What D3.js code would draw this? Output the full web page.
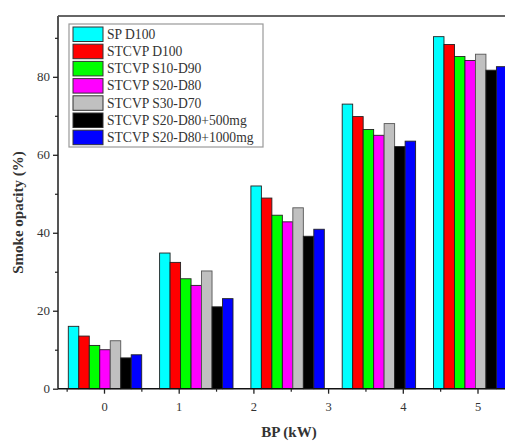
<!DOCTYPE html>
<html>
<head>
<meta charset="utf-8">
<script src="https://cdn.jsdelivr.net/npm/d3@7"></script>
<style>
html,body{margin:0;padding:0;background:#fff;overflow:hidden;}
svg{display:block;}
</style>
</head>
<body>
<svg id="chart" width="505" height="441"></svg>
<script>
const groups = ["G1", "G2", "G3", "G4", "G5"];
const seriesNames = ["SP D100", "STCVP D100", "STCVP S10-D90", "STCVP S20-D80", "STCVP S30-D70", "STCVP S20-D80+500mg", "STCVP S20-D80+1000mg"];
const seriesColors = ["#00ffff", "#ff0000", "#00ff00", "#ff00ff", "#c0c0c0", "#000000", "#0000ff"];
const spD100      = [16.0, 34.8, 52.0, 73.0, 90.3];
const stcvpD100   = [13.5, 32.4, 48.9, 69.8, 88.3];
const s10d90      = [11.1, 28.2, 44.5, 66.5, 85.2];
const s20d80      = [10.0, 26.5, 42.8, 65.0, 84.2];
const s30d70      = [12.3, 30.2, 46.4, 68.0, 85.8];
const s20d80_500  = [7.9, 21.0, 39.1, 62.1, 81.7];
const s20d80_1000 = [8.7, 23.1, 40.9, 63.5, 82.6];
const seriesValues = [spD100, stcvpD100, s10d90, s20d80, s30d70, s20d80_500, s20d80_1000];
const xTickLabels = [0, 1, 2, 3, 4, 5];
const yTicks = [0, 20, 40, 60, 80];

(function () {
const svg = d3.select("#chart");
const mLeft = 58, mRight = 520, mTop = 16, mBottom = 388.7;
const serif = "'Liberation Serif','Times New Roman',serif";

const y = d3.scaleLinear().domain([0, 95.6]).range([mBottom, mTop]);
const xAxisScale = d3.scaleLinear().domain([0, 5]).range([104, 477.5]);
const xGroup = d3.scaleBand().domain(groups).range([68.3, 506.9]).paddingInner(0.196).paddingOuter(0);
const xSeries = d3.scaleBand().domain(seriesNames).range([0, xGroup.bandwidth()]);

// bars
const gBars = svg.append("g");
groups.forEach((g, gi) => {
  gBars.selectAll(null).data(seriesNames).enter().append("rect")
    .attr("x", s => xGroup(g) + xSeries(s))
    .attr("width", xSeries.bandwidth())
    .attr("y", (s, si) => y(seriesValues[si][gi]))
    .attr("height", (s, si) => mBottom - y(seriesValues[si][gi]))
    .attr("fill", (s, si) => seriesColors[si])
    .attr("stroke", (s, si) => si === 4 ? "#555" : "#222")
    .attr("stroke-width", 0.9);
});

// frame
svg.append("line").attr("x1", mLeft).attr("x2", mRight).attr("y1", mTop).attr("y2", mTop)
  .attr("stroke", "#666").attr("stroke-width", 2);
svg.append("line").attr("x1", mLeft).attr("x2", mLeft).attr("y1", mTop).attr("y2", mBottom)
  .attr("stroke", "#555").attr("stroke-width", 2);

// y axis
const yAxis = d3.axisLeft(y).tickValues(yTicks).tickSize(5).tickPadding(3).tickFormat(d3.format("d"));
const gy = svg.append("g").attr("transform", `translate(${mLeft},0)`).call(yAxis);
gy.select(".domain").remove();
gy.selectAll(".tick line").attr("stroke", "#222").attr("stroke-width", 1.3);
gy.selectAll("text").attr("font-family", serif).attr("font-size", 13).attr("fill", "#333");
const yMinor = d3.axisLeft(y).tickValues([10, 30, 50, 70, 90]).tickSize(3).tickFormat("");
const gym = svg.append("g").attr("transform", `translate(${mLeft},0)`).call(yMinor);
gym.select(".domain").remove();
gym.selectAll(".tick line").attr("stroke", "#222").attr("stroke-width", 1.2);

// x axis
svg.append("line").attr("x1", mLeft).attr("x2", mRight).attr("y1", mBottom).attr("y2", mBottom)
  .attr("stroke", "#111").attr("stroke-width", 1.6);
const xAxis = d3.axisBottom(xAxisScale).tickValues(xTickLabels).tickSize(5).tickPadding(8).tickFormat(d3.format("d"));
const gx = svg.append("g").attr("transform", `translate(0,${mBottom})`).call(xAxis);
gx.select(".domain").remove();
gx.selectAll(".tick line").attr("stroke", "#222").attr("stroke-width", 1.3);
gx.selectAll("text").attr("font-family", serif).attr("font-size", 12.5).attr("fill", "#333");
const xMinor = d3.axisBottom(xAxisScale).tickValues([-0.5, 0.5, 1.5, 2.5, 3.5, 4.5]).tickSize(3).tickFormat("");
const gxm = svg.append("g").attr("transform", `translate(0,${mBottom})`).call(xMinor);
gxm.select(".domain").remove();
gxm.selectAll(".tick line").attr("stroke", "#222").attr("stroke-width", 1.2);

// axis titles
svg.append("text").attr("x", 289).attr("y", 437).attr("text-anchor", "middle")
  .attr("font-family", serif).attr("font-weight", "bold").attr("font-size", 15).attr("fill", "#333")
  .text("BP (kW)");
svg.append("text").attr("transform", `translate(22.5,212.5) rotate(-90)`)
  .attr("text-anchor", "middle")
  .attr("font-family", serif).attr("font-weight", "bold").attr("font-size", 15).attr("fill", "#333")
  .text("Smoke opacity (%)");

// legend
const lg = svg.append("g");
lg.append("rect").attr("x", 69).attr("y", 24).attr("width", 194).attr("height", 123)
  .attr("fill", "#fff").attr("stroke", "#999").attr("stroke-width", 1.2);
const rowH = 17.2;
seriesNames.forEach((s, i) => {
  lg.append("rect").attr("x", 73).attr("y", 27 + i * rowH).attr("width", 30).attr("height", 14.5)
    .attr("fill", seriesColors[i]).attr("stroke", "#333").attr("stroke-width", 1);
  lg.append("text").attr("x", 107).attr("y", 27 + i * rowH + 11.8)
    .attr("font-family", serif).attr("font-size", 13.6).attr("fill", "#333").text(s);
});
})();
</script>
</body>
</html>
